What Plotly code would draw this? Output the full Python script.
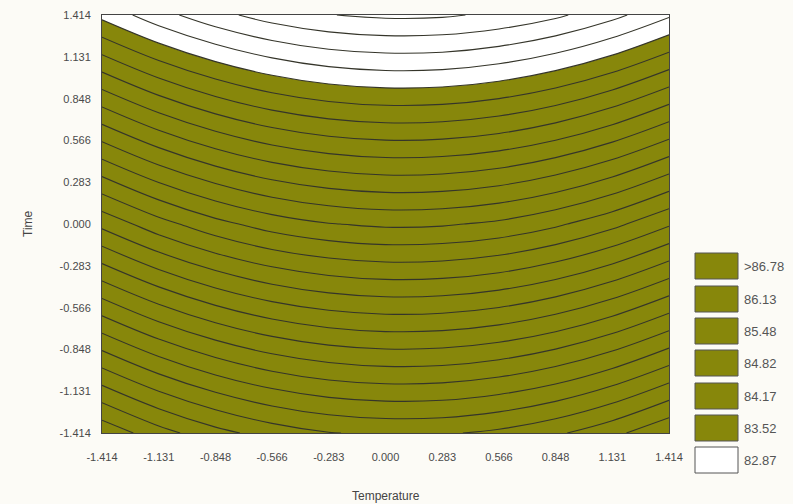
import plotly.graph_objects as go

# ---- data ----
temperature = [-1.414, -1.131, -0.848, -0.566, -0.283, 0.0, 0.283, 0.566, 0.848, 1.131, 1.414]
time_vals = [-1.414, 0.0, 1.414]
# response values on the grid (rows = time, cols = temperature)
z_grid = [
    [98.30, 97.43, 96.74, 96.23, 95.90, 95.76, 95.79, 96.01, 96.40, 96.98, 97.74],
    [90.49, 89.62, 88.93, 88.42, 88.10, 87.95, 87.99, 88.20, 88.60, 89.18, 89.94],
    [82.69, 81.82, 81.13, 80.62, 80.29, 80.15, 80.18, 80.40, 80.79, 81.37, 82.13],
]
tick_vals = [-1.414, -1.131, -0.848, -0.566, -0.283, 0.0, 0.283, 0.566, 0.848, 1.131, 1.414]
tick_text = ["-1.414", "-1.131", "-0.848", "-0.566", "-0.283", "0.000", "0.283", "0.566", "0.848", "1.131", "1.414"]
legend_labels = [">86.78", "86.13", "85.48", "84.82", "84.17", "83.52", "82.87"]
legend_colors = ["#87870b", "#87870b", "#87870b", "#87870b", "#87870b", "#87870b", "#ffffff"]
level_low = 82.87
level_step = 0.65

OLIVE = "#87870b"
BG = "#fcfbf6"

fig = go.Figure()

# filled regions: white below lowest level, olive above
fig.add_trace(go.Contour(
    x=temperature, y=time_vals, z=z_grid,
    contours=dict(start=level_low, end=level_low, size=level_step, coloring="fill", showlines=False),
    colorscale=[[0, "#ffffff"], [0.5, "#ffffff"], [0.5, OLIVE], [1, OLIVE]],
    showscale=False, hoverinfo="skip", line=dict(width=0),
))
# contour lines
fig.add_trace(go.Contour(
    x=temperature, y=time_vals, z=z_grid,
    contours=dict(start=level_low - 6 * level_step, end=level_low + 30 * level_step,
                  size=level_step, coloring="none"),
    line=dict(color="#35352a", width=1.1),
    showscale=False, hoverinfo="skip",
))

W, H = 793, 504
L, R, T, B = 102, 669, 15, 433

def px_x(p):
    return (p - L) / (R - L)

def px_y(p):
    return (B - p) / (B - T)

box_left, box_right = 695, 738
box_tops = [253, 286, 318, 350, 383, 415, 447]
box_h = 26
shapes = []
annotations = []
for lab, col, top in zip(legend_labels, legend_colors, box_tops):
    shapes.append(dict(type="rect", xref="paper", yref="paper",
                       x0=px_x(box_left), x1=px_x(box_right),
                       y0=px_y(top + box_h), y1=px_y(top),
                       fillcolor=col, line=dict(color="#555555", width=1)))
    annotations.append(dict(xref="paper", yref="paper", x=px_x(742), y=px_y(top + box_h / 2),
                            text=lab, showarrow=False, xanchor="left", yanchor="middle",
                            font=dict(size=13, color="#555555")))

annotations.append(dict(xref="paper", yref="paper", x=0.5, y=px_y(496), text="Temperature",
                        showarrow=False, xanchor="center", yanchor="middle",
                        font=dict(size=12, color="#444444")))
annotations.append(dict(xref="paper", yref="paper", x=px_x(28), y=0.5, text="Time", textangle=-90,
                        showarrow=False, xanchor="center", yanchor="middle",
                        font=dict(size=12, color="#444444")))

fig.update_layout(
    width=W, height=H,
    margin=dict(l=L, r=W - R, t=T, b=H - B, autoexpand=False),
    paper_bgcolor=BG, plot_bgcolor="#ffffff",
    font=dict(family="Liberation Sans, Arial, sans-serif", size=11, color="#4a4a4a"),
    shapes=shapes, annotations=annotations,
    showlegend=False,
)
axis_common = dict(showgrid=False, zeroline=False, showline=True, linecolor="#444444", linewidth=1,
                   mirror=True, ticks="", tickvals=tick_vals, ticktext=tick_text,
                   tickfont=dict(size=11, color="#4a4a4a"))
fig.update_xaxes(range=[-1.414, 1.414], ticklabelstandoff=14, **axis_common)
fig.update_yaxes(range=[-1.414, 1.414], ticklabelstandoff=8, **axis_common)

fig.write_html("out.html")
